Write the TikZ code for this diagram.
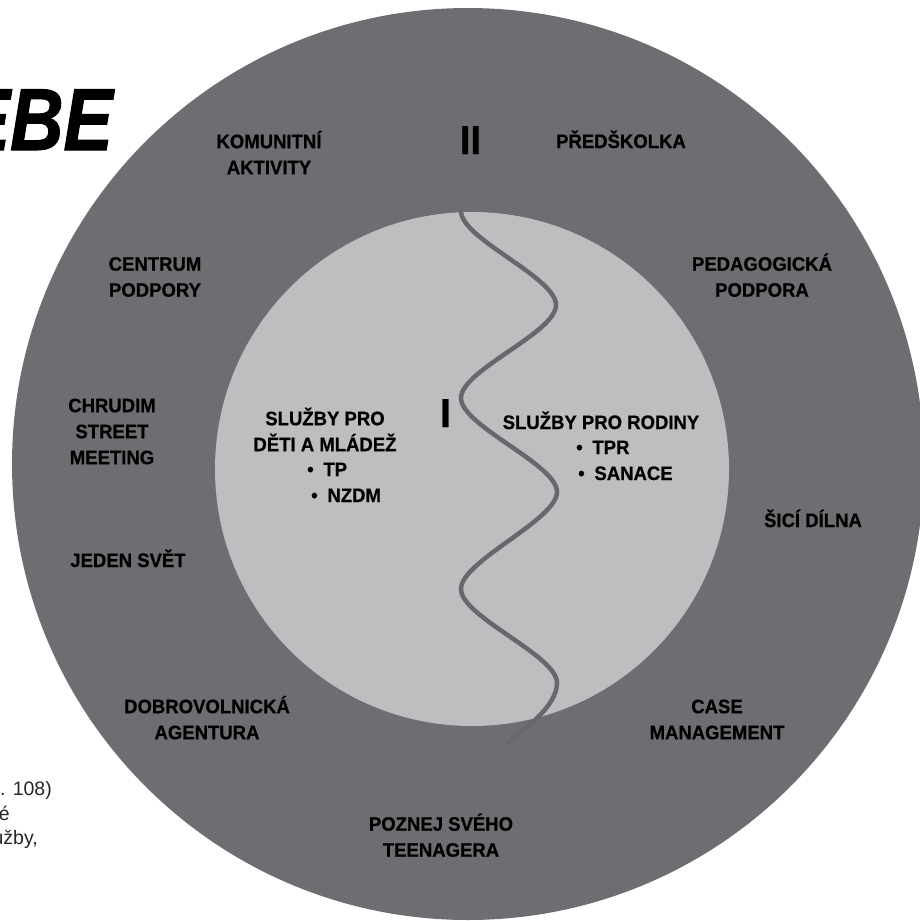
\documentclass[tikz,border=0pt]{standalone}
\usepackage{fontspec}
\setmainfont{Liberation Sans}[FakeStretch=0.95, BoldFeatures={FakeBold=0.6}]
\newfontfamily\ebefont{Liberation Sans}[FakeStretch=0.84, BoldItalicFeatures={FakeBold=1.2}]
\newfontfamily\notefont{Liberation Sans}
\definecolor{ringc}{RGB}{109,110,113}
\definecolor{innerc}{RGB}{189,190,192}
\definecolor{wavec}{RGB}{103,104,107}
\begin{document}
\begin{tikzpicture}[x=1pt,y=-1pt,
  lbl/.style={font=\bfseries\fontsize{19.5}{26}\selectfont, align=center, inner sep=0pt, text=black},
  roman/.style={font=\bfseries\fontsize{40.5}{40.5}\selectfont, inner sep=0pt, anchor=base, text=black},
  note/.style={font=\notefont\fontsize{19.5}{24.5}\selectfont, inner sep=0pt, anchor=base east, text=black!85},
  wave/.style={draw=wavec, line width=4.5pt, line cap=round}]
\useasboundingbox (0,0) rectangle (920,921);
\clip (0,0) rectangle (920,921);
% circles
\fill[ringc] (468,464) circle[radius=456];
\fill[innerc] (472,469) circle[radius=257];
% wave
\draw[wave] (461,211)
  .. controls +(0,28) and +(0,-28) .. (556,305)
  .. controls +(0,28) and +(0,-28) .. (461,398)
  .. controls +(0,28) and +(0,-28) .. (557,492)
  .. controls +(0,28) and +(0,-28) .. (461,589)
  .. controls +(0,28) and +(0,-28) .. (557,683)
  .. controls +(0,24) and (522,731) .. (508,742);
% title fragment
\node[font=\ebefont\bfseries\itshape\fontsize{88}{88}\selectfont, anchor=base east, inner sep=0pt] (ebe) at (113,150) {EBE};
% footnote fragments
\node[note] (n1) at (52,795) {. 108)};
\node[note] (n2) at (10,820) {é};
\node[note] (n3) at (38,844) {užby,};
% roman numerals
\node[roman] (ii) at (470.5,154) {II};
\node[roman] (i) at (445.5,427) {I};
% ring labels
\node[lbl] (komunitni) at (269,156) {\strut KOMUNITNÍ\\\strut AKTIVITY};
\node[lbl, anchor=base] (predskolka) at (621,148) {PŘEDŠKOLKA};
\node[lbl] (centrum) at (155,278.5) {\strut CENTRUM\\\strut PODPORY};
\node[lbl] (pedagog) at (762,278.5) {\strut PEDAGOGICKÁ\\\strut PODPORA};
\node[lbl] (chrudim) at (112,433) {\strut CHRUDIM\\\strut STREET\\\strut MEETING};
\node[lbl, anchor=base] (jeden) at (128,567) {JEDEN SVĚT};
\node[lbl, anchor=base] (sici) at (813,527) {ŠICÍ DÍLNA};
\node[lbl] (dobro) at (207,721) {\strut DOBROVOLNICKÁ\\\strut AGENTURA};
\node[lbl] (case) at (717,721) {\strut CASE\\\strut MANAGEMENT};
\node[lbl] (poznej) at (441,838.5) {\strut POZNEJ SVÉHO\\\strut TEENAGERA};
% inner labels
\node[lbl] (deti) at (325,433) {\strut SLUŽBY PRO\\\strut DĚTI A MLÁDEŽ};
\node[lbl, anchor=base west] (tp) at (307,476) {•\hspace{0.5em}TP};
\node[lbl, anchor=base west] (nzdm) at (311,502) {•\hspace{0.5em}NZDM};
\node[lbl, anchor=base] (rodiny) at (601,429) {SLUŽBY PRO RODINY};
\node[lbl, anchor=base west] (tpr) at (576,454) {•\hspace{0.5em}TPR};
\node[lbl, anchor=base west] (sanace) at (578,480) {•\hspace{0.5em}SANACE};
\end{tikzpicture}
\end{document}
